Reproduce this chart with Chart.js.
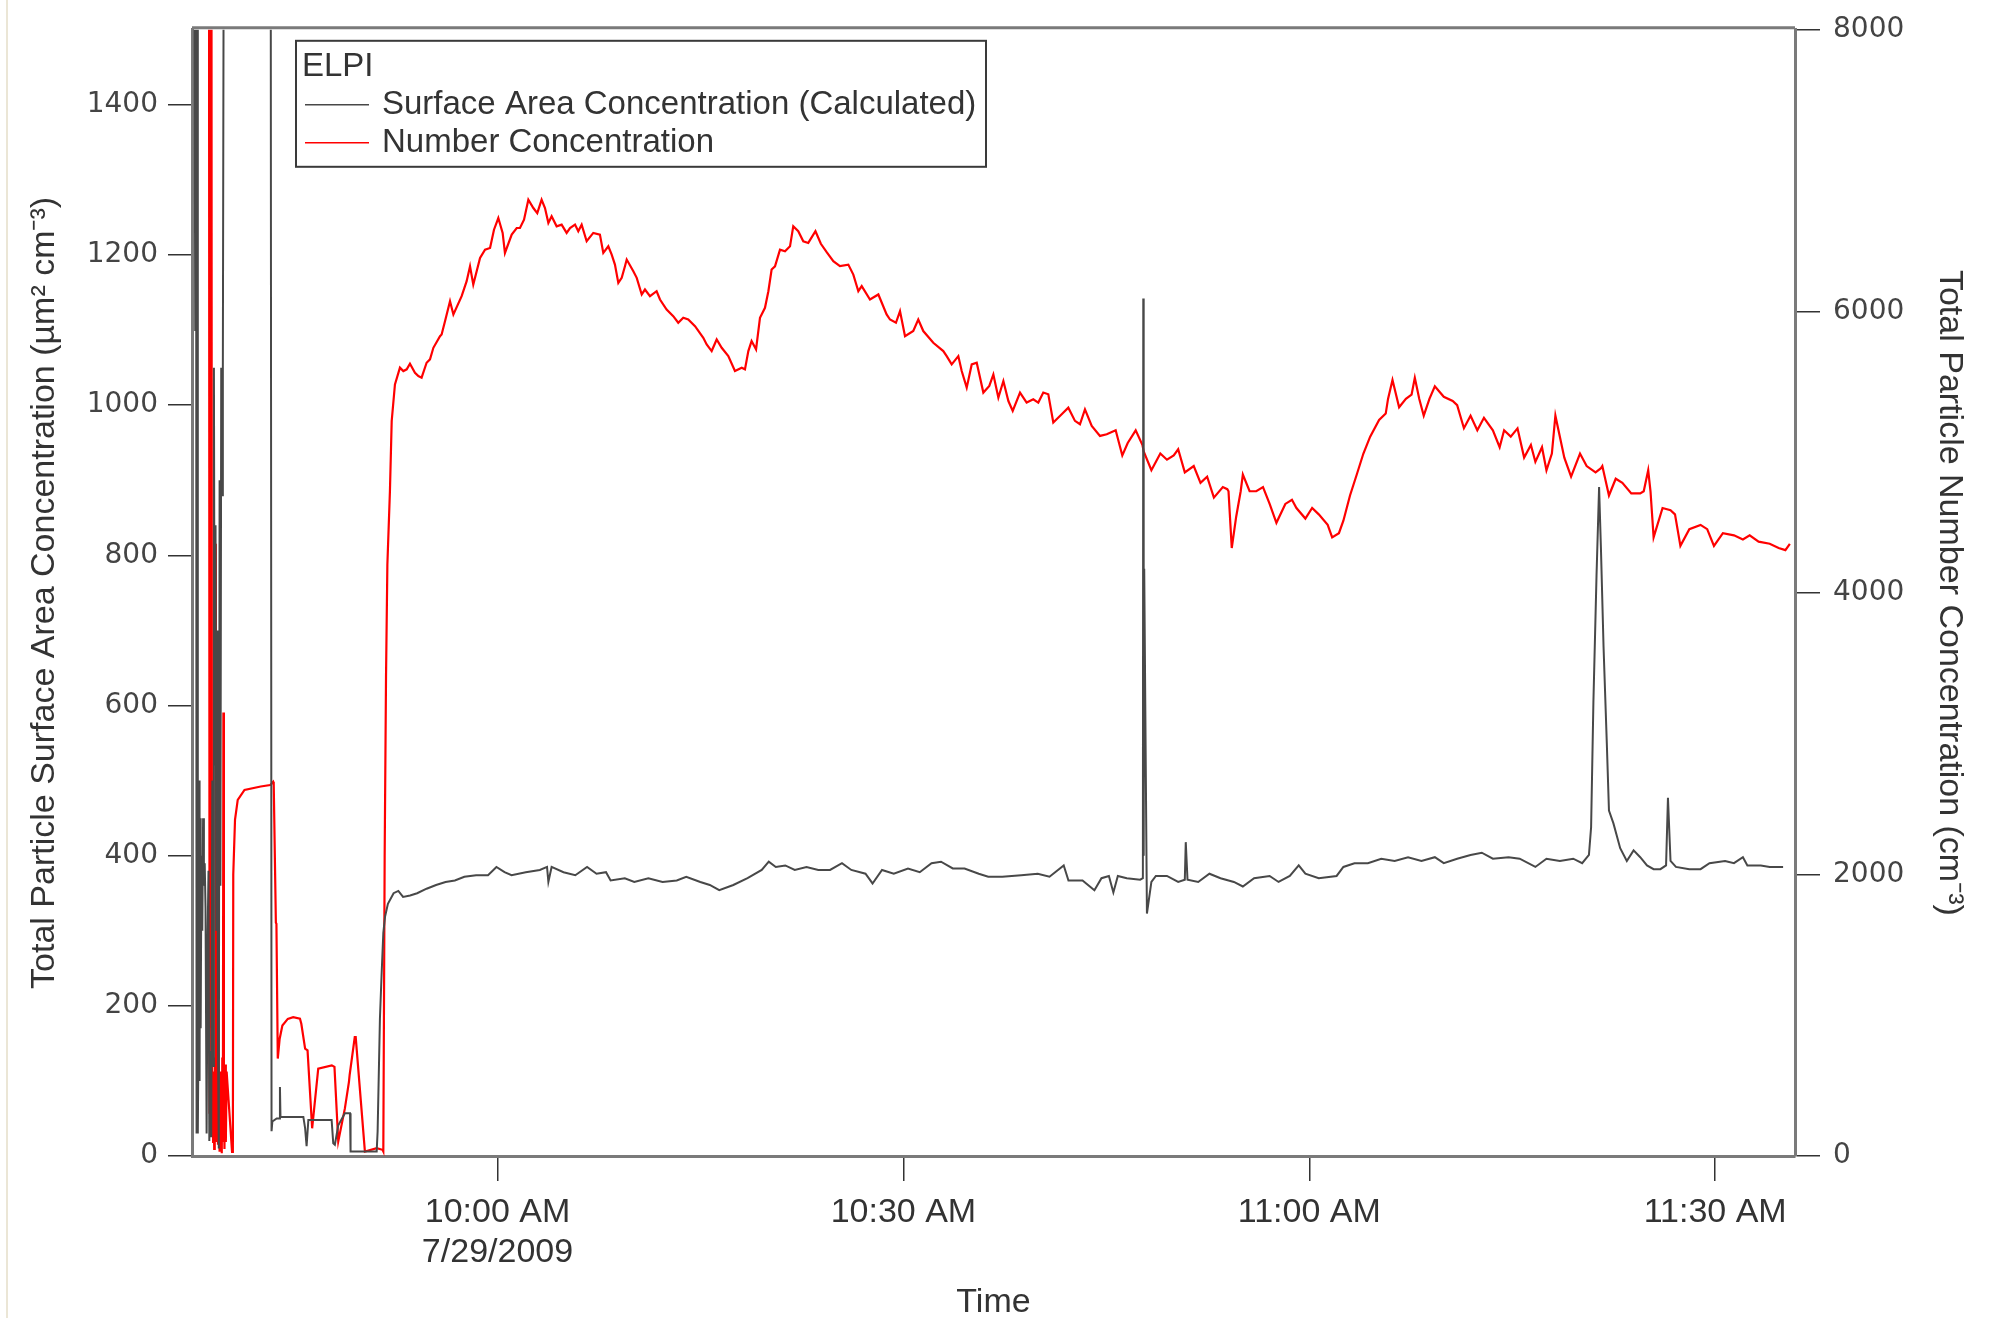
<!DOCTYPE html>
<html>
<head>
<meta charset="utf-8">
<title>ELPI - 7/29/2009</title>
<script src="https://cdn.jsdelivr.net/npm/chart.js@4.4.1/dist/chart.umd.min.js"></script>
<style>
    html, body { margin: 0; padding: 0; background: #fff; }
    #chart { display: block; }
</style>
</head>
<body>
<canvas id="chart" width="1995" height="1318"></canvas>
<script>
// Times are minutes after 9:00 AM on 7/29/2009
const xMin = 37.42;
const xMax = 155.9;
const xTickMinutes = [60, 90, 120, 150];
const xTickLabels = [['10:00 AM', '7/29/2009'], '10:30 AM', '11:00 AM', '11:30 AM'];
const surfaceTicks = [0, 200, 400, 600, 800, 1000, 1200, 1400];
const numberTicks = [0, 2000, 4000, 6000, 8000];

const legendTitle = 'ELPI';

// Surface area concentration (um2 cm-3), left axis
const surfaceMinutes = [
    37.60, 37.66, 37.68, 37.72, 37.74, 37.78, 37.80, 37.84, 37.86, 37.90, 37.94, 37.98,
    38.02, 38.06, 38.12, 38.18, 38.24, 38.30, 38.36, 38.42, 38.50, 38.58, 38.64, 38.70,
    38.78, 38.84, 38.92, 38.98, 39.04, 39.10, 39.16, 39.22, 39.28, 39.34, 39.40, 39.46,
    39.52, 39.58, 39.64, 39.70, 39.76, 40.50, 42.00, 43.24, 43.30, 43.36, 43.68, 43.90,
    43.92, 43.96, 45.65, 45.78, 45.89, 46.02, 47.74, 47.86, 47.98, 48.23, 48.72, 49.10,
    49.14, 51.07, 51.14, 51.31, 51.43, 51.56, 51.69, 51.90, 52.32, 52.67, 53.02, 53.54,
    54.06, 54.76, 55.46, 56.16, 56.85, 57.55, 58.42, 59.30, 59.92, 60.52, 61.04, 62.09,
    63.13, 63.66, 63.76, 64.00, 64.88, 65.75, 66.62, 67.32, 68.02, 68.36, 69.41, 70.11,
    71.15, 72.20, 73.25, 73.95, 74.99, 75.69, 76.39, 77.43, 78.48, 79.53, 80.05, 80.57,
    81.27, 81.97, 82.84, 83.71, 84.58, 85.46, 86.15, 87.20, 87.72, 88.42, 89.29, 90.34,
    91.21, 92.08, 92.78, 93.65, 94.52, 95.57, 96.27, 97.31, 98.71, 99.93, 100.80, 101.85,
    102.20, 103.24, 104.12, 104.64, 105.19, 105.52, 105.85, 106.51, 107.50, 107.70, 107.73, 107.76,
    107.80, 108.00, 108.33, 108.66, 109.48, 110.31, 110.80, 110.87, 111.00, 111.79, 112.62, 113.44,
    114.43, 115.09, 115.92, 117.07, 117.73, 118.56, 119.22, 119.71, 120.70, 122.02, 122.52, 123.34,
    124.33, 125.32, 126.31, 127.30, 128.29, 129.28, 129.94, 130.93, 131.92, 132.75, 133.57, 134.73,
    135.55, 136.71, 137.53, 138.52, 139.51, 140.17, 140.67, 140.83, 141.00, 141.23, 141.42, 141.56,
    141.75, 141.99, 142.15, 142.48, 142.98, 143.47, 143.97, 144.46, 144.96, 145.45, 145.95, 146.37,
    146.51, 146.70, 147.10, 148.09, 148.92, 149.58, 150.73, 151.39, 152.05, 152.38, 153.37, 154.03,
    155.02
];
const surfaceArea = [
    1600, 1100, 1600, 1600, 30, 1100, 1600, 1450, 30, 160, 500, 100,
    450, 170, 400, 300, 450, 360, 390, 330, 30, 300, 380, 20,
    140, 25, 500, 120, 1050, 520, 840, 300, 700, 150, 10, 900,
    360, 1050, 880, 1050, 1600, 1650, 1650, 1600, 33, 46, 50, 50,
    92, 52, 52, 37, 13, 48, 48, 17, 15, 41, 57, 57,
    6, 6, 33, 183, 240, 297, 319, 336, 350, 353, 345, 347,
    350, 356, 361, 365, 367, 372, 374, 374, 385, 378, 374, 378,
    381, 385, 365, 385, 378, 374, 385, 376, 378, 367, 370, 365,
    370, 365, 367, 372, 365, 361, 354, 361, 370, 381, 392, 385,
    387, 381, 385, 381, 381, 390, 381, 376, 363, 381, 376, 383,
    378, 390, 392, 383, 383, 376, 372, 372, 374, 376, 372, 387,
    367, 367, 354, 370, 373, 351, 373, 370, 368, 370, 1142, 400,
    782, 323, 365, 373, 373, 365, 368, 418, 368, 365, 376, 370,
    365, 359, 370, 373, 365, 373, 387, 376, 370, 373, 385, 390,
    390, 396, 393, 398, 393, 398, 390, 396, 401, 404, 396, 398,
    396, 385, 396, 393, 396, 390, 401, 438, 605, 773, 891, 807,
    678, 550, 460, 443, 410, 393, 407, 398, 387, 382, 382, 387,
    477, 393, 385, 382, 382, 390, 393, 390, 398, 387, 387, 385,
    385
];

// Number concentration (cm-3), right axis
const numberMinutes = [
    38.68, 38.72, 38.86, 38.90, 38.94, 38.98, 39.02, 39.06, 39.10, 39.14, 39.18, 39.22,
    39.26, 39.30, 39.34, 39.38, 39.42, 39.46, 39.50, 39.54, 39.58, 39.62, 39.66, 39.70,
    39.74, 39.78, 39.82, 39.86, 39.92, 39.98, 40.38, 40.44, 40.47, 40.60, 40.80, 41.30,
    42.50, 43.20, 43.35, 43.42, 43.46, 43.62, 43.66, 43.76, 43.90, 44.10, 44.50, 44.90,
    45.40, 45.50, 45.78, 45.96, 46.30, 46.75, 47.75, 47.95, 48.23, 48.72, 49.02, 49.07,
    49.45, 49.52, 50.20, 51.07, 51.50, 51.56, 51.66, 51.76, 51.86, 52.05, 52.18, 52.42,
    52.79, 53.04, 53.29, 53.53, 53.90, 54.15, 54.39, 54.76, 55.01, 55.26, 55.75, 55.87,
    56.12, 56.49, 56.74, 57.35, 57.72, 57.97, 58.21, 58.71, 59.08, 59.45, 59.74, 60.06,
    60.38, 60.55, 61.05, 61.42, 61.66, 61.96, 62.28, 62.65, 62.94, 63.26, 63.51, 63.76,
    64.00, 64.37, 64.74, 65.11, 65.36, 65.73, 65.97, 66.22, 66.59, 67.08, 67.57, 67.82,
    68.19, 68.44, 68.68, 68.93, 69.18, 69.42, 69.55, 70.04, 70.29, 70.66, 70.90, 71.27,
    71.76, 72.01, 72.50, 72.99, 73.36, 73.73, 74.10, 74.60, 75.21, 75.46, 75.83, 76.20,
    76.57, 77.06, 77.55, 78.05, 78.29, 78.54, 78.78, 79.11, 79.40, 79.77, 80.02, 80.26,
    80.51, 80.88, 81.25, 81.62, 81.86, 82.23, 82.60, 82.97, 83.50, 83.90, 84.33, 84.82,
    85.31, 85.93, 86.30, 86.67, 86.92, 87.53, 88.15, 88.76, 89.01, 89.45, 89.75, 90.12,
    90.73, 91.10, 91.47, 92.21, 92.95, 93.20, 93.57, 94.06, 94.31, 94.68, 95.05, 95.42,
    95.91, 96.35, 96.65, 97.02, 97.39, 97.76, 98.08, 98.62, 99.11, 99.60, 99.97, 100.34,
    100.71, 101.08, 101.70, 102.19, 102.68, 103.05, 103.42, 103.92, 104.53, 105.03, 105.69, 106.18,
    106.58, 107.17, 107.67, 107.76, 108.33, 108.99, 109.48, 109.98, 110.31, 110.80, 111.46, 111.96,
    112.45, 112.95, 113.61, 113.94, 114.03, 114.27, 114.60, 114.93, 115.09, 115.59, 116.08, 116.58,
    117.07, 117.57, 118.23, 118.72, 119.05, 119.71, 120.21, 120.70, 121.36, 121.69, 122.19, 122.52,
    123.01, 123.51, 124.00, 124.50, 125.16, 125.65, 125.82, 126.15, 126.64, 127.14, 127.56, 127.80,
    128.13, 128.46, 128.88, 129.28, 129.94, 130.60, 130.93, 131.43, 131.92, 132.42, 132.91, 133.57,
    134.07, 134.40, 134.89, 135.39, 135.88, 136.38, 136.71, 137.20, 137.53, 137.93, 138.19, 138.85,
    139.35, 140.01, 140.50, 141.16, 141.56, 141.66, 142.15, 142.65, 143.14, 143.80, 144.46, 144.72,
    145.05, 145.22, 145.45, 146.11, 146.70, 147.03, 147.43, 148.09, 148.92, 149.41, 149.91, 150.57,
    151.39, 152.05, 152.55, 153.21, 154.03, 154.69, 155.19, 155.52
];
const numberConc = [
    8500, 300, 8500, 200, 600, 100, 500, 50, 700, 150, 4350, 300,
    100, 650, 80, 1040, 200, 30, 600, 150, 500, 20, 700, 100,
    3150, 400, 50, 650, 100, 600, 30, 40, 2000, 2390, 2530, 2600,
    2625, 2635, 2650, 2658, 2646, 1657, 1650, 692, 833, 927, 974, 986,
    975, 939, 762, 750, 197, 621, 644, 633, 103, 338, 527, 574,
    845, 845, 32, 56, 44, 32, 2128, 3400, 4200, 4725, 5221, 5481,
    5600, 5576, 5588, 5628, 5564, 5540, 5529, 5635, 5659, 5741, 5824, 5836,
    5930, 6072, 5978, 6108, 6214, 6320, 6190, 6379, 6438, 6450, 6580, 6663,
    6557, 6415, 6545, 6592, 6592, 6651, 6793, 6734, 6698, 6793, 6734, 6628,
    6675, 6604, 6616, 6557, 6592, 6616, 6569, 6616, 6498, 6557, 6545, 6415,
    6462, 6403, 6332, 6202, 6238, 6320, 6368, 6285, 6238, 6120, 6155, 6108,
    6143, 6084, 6013, 5966, 5919, 5954, 5942, 5895, 5812, 5765, 5718, 5800,
    5741, 5682, 5576, 5600, 5588, 5718, 5789, 5730, 5954, 6025, 6143, 6297,
    6320, 6438, 6427, 6462, 6604, 6569, 6498, 6486, 6569, 6480, 6420, 6356,
    6321, 6332, 6261, 6143, 6179, 6084, 6120, 5978, 5942, 5919, 6001, 5824,
    5860, 5942, 5860, 5777, 5718, 5682, 5623, 5682, 5576, 5458, 5623, 5635,
    5423, 5470, 5552, 5387, 5505, 5363, 5293, 5423, 5352, 5375, 5352, 5423,
    5411, 5210, 5269, 5316, 5222, 5198, 5304, 5186, 5115, 5127, 5155, 4976,
    5065, 5155, 5050, 5005, 4871, 4990, 4946, 4976, 5020, 4856, 4901, 4782,
    4826, 4677, 4752, 4737, 4722, 4319, 4543, 4722, 4841, 4722, 4722, 4752,
    4632, 4498, 4632, 4662, 4603, 4528, 4603, 4558, 4483, 4394, 4424, 4513,
    4692, 4841, 4990, 5110, 5229, 5274, 5378, 5513, 5319, 5378, 5408, 5528,
    5378, 5259, 5378, 5468, 5393, 5363, 5334, 5170, 5259, 5155, 5244, 5155,
    5035, 5155, 5110, 5169, 4961, 5050, 4931, 5035, 4871, 4990, 5259, 4961,
    4826, 4990, 4901, 4856, 4886, 4901, 4692, 4811, 4782, 4707, 4707, 4722,
    4871, 4722, 4394, 4603, 4588, 4558, 4334, 4453, 4483, 4453, 4334, 4424,
    4409, 4379, 4409, 4364, 4349, 4319, 4304, 4349, 4334
];

// Find a narrow sans for the axis titles and time labels
function pickFont(candidates, fallback) {
    const ctx = document.createElement('canvas').getContext('2d');
    const probe = 'Total Particle 10:00 AM';
    ctx.font = '40px monospace';
    const base = ctx.measureText(probe).width;
    for (const name of candidates) {
        ctx.font = `40px "${name}", monospace`;
        if (Math.abs(ctx.measureText(probe).width - base) > 0.5) return name;
    }
    return fallback;
}

const narrowFamily = pickFont(['Liberation Sans Narrow', 'Arial Narrow'], 'Liberation Sans');
const hasNarrow = narrowFamily !== 'Liberation Sans';
// sizes for a real narrow face, or for the regular face standing in for it
const narrowSize = (px, regularPx) => hasNarrow ? px : regularPx;
const numberFamily = 'DejaVu Sans';

function toPoints(xs, ys) {
    return xs.map((x, i) => ({ x: x, y: ys[i] }));
}

// Box round the plot, faint page edge and the ELPI legend
const framePlugin = {
    id: 'frame',
    beforeDraw(chart) {
        const ctx = chart.ctx;
        ctx.save();
        ctx.fillStyle = '#ffffff';
        ctx.fillRect(0, 0, chart.width, chart.height);
        ctx.strokeStyle = '#ebe6d6';
        ctx.lineWidth = 2;
        ctx.beginPath();
        ctx.moveTo(7, 0);
        ctx.lineTo(7, chart.height);
        ctx.stroke();
        ctx.restore();
    },
    afterDraw(chart) {
        const ctx = chart.ctx;
        const area = chart.chartArea;
        ctx.save();
        ctx.strokeStyle = '#7a7a7a';
        ctx.lineWidth = 3;
        ctx.beginPath();
        ctx.moveTo(area.left, area.top - 2);
        ctx.lineTo(area.right, area.top - 2);
        ctx.stroke();

        // legend
        const boxX = area.left + 104;
        const boxY = area.top + 11;
        const boxW = 690;
        const boxH = 126;
        ctx.fillStyle = '#ffffff';
        ctx.fillRect(boxX, boxY, boxW, boxH);
        ctx.strokeStyle = '#3a3a3a';
        ctx.lineWidth = 2;
        ctx.strokeRect(boxX, boxY, boxW, boxH);

        ctx.fillStyle = '#333';
        ctx.textBaseline = 'middle';
        ctx.textAlign = 'left';
        ctx.font = `${narrowSize(37, 33)}px "${narrowFamily}"`;
        ctx.fillText(legendTitle, boxX + 6, boxY + 26);

        chart.data.datasets.forEach((ds, i) => {
            const y = boxY + 64 + i * 38;
            ctx.strokeStyle = ds.borderColor;
            ctx.lineWidth = 1.5;
            ctx.beginPath();
            ctx.moveTo(boxX + 9, y);
            ctx.lineTo(boxX + 73, y);
            ctx.stroke();
            ctx.fillStyle = '#333';
            ctx.fillText(ds.label, boxX + 86, y);
        });
        ctx.restore();
    }
};

const tickColor = '#333';
const axisColor = '#7a7a7a';

new Chart(document.getElementById('chart'), {
    type: 'line',
    data: {
        datasets: [
            {
                label: 'Surface Area Concentration (Calculated)',
                data: toPoints(surfaceMinutes, surfaceArea),
                yAxisID: 'ySurface',
                borderColor: '#484848',
                borderWidth: 2,
                pointRadius: 0,
                tension: 0
            },
            {
                label: 'Number Concentration',
                data: toPoints(numberMinutes, numberConc),
                yAxisID: 'yNumber',
                borderColor: '#ff0000',
                borderWidth: 2.2,
                pointRadius: 0,
                tension: 0
            }
        ]
    },
    options: {
        responsive: false,
        devicePixelRatio: 1,
        animation: false,
        layout: { padding: { top: 28, left: 0, right: 0, bottom: 0 } },
        plugins: {
            legend: { display: false },
            tooltip: { enabled: false }
        },
        scales: {
            x: {
                type: 'linear',
                position: 'bottom',
                min: xMin,
                max: xMax,
                afterFit: scale => { scale.height = 162; },
                afterBuildTicks: scale => {
                    scale.ticks = xTickMinutes.map(v => ({ value: v }));
                },
                ticks: {
                    autoSkip: false,
                    maxRotation: 0,
                    padding: 12,
                    color: tickColor,
                    font: { family: narrowFamily, size: narrowSize(40, 34), lineHeight: 1.17 },
                    callback: value => xTickLabels[xTickMinutes.indexOf(value)]
                },
                grid: { drawOnChartArea: false, tickLength: 25, color: tickColor, lineWidth: 1.5 },
                border: { color: axisColor, width: 3 },
                title: {
                    display: true,
                    text: 'Time',
                    color: tickColor,
                    font: { family: narrowFamily, size: narrowSize(40, 34), lineHeight: 0.9 },
                    padding: { top: 0, bottom: 0 }
                }
            },
            ySurface: {
                type: 'linear',
                position: 'left',
                min: 0,
                max: 1500,
                afterFit: scale => { scale.width = 192; },
                afterBuildTicks: scale => {
                    scale.ticks = surfaceTicks.map(v => ({ value: v }));
                },
                ticks: {
                    padding: 10,
                    color: '#444',
                    font: { family: numberFamily, size: 28 },
                    callback: value => String(value)
                },
                grid: { drawOnChartArea: false, tickLength: 24, color: tickColor, lineWidth: 1.5 },
                border: { color: axisColor, width: 3 },
                title: {
                    display: true,
                    text: 'Total Particle Surface Area Concentration (µm² cm⁻³)',
                    color: tickColor,
                    font: { family: narrowFamily, size: narrowSize(38, 34), lineHeight: 1.2 },
                    padding: { top: 24, bottom: 0 }
                }
            },
            yNumber: {
                type: 'linear',
                position: 'right',
                min: 0,
                max: 8000,
                afterFit: scale => { scale.width = 200; },
                afterBuildTicks: scale => {
                    scale.ticks = numberTicks.map(v => ({ value: v }));
                },
                ticks: {
                    padding: 13,
                    color: '#444',
                    font: { family: numberFamily, size: 28 },
                    callback: value => String(value)
                },
                grid: { drawOnChartArea: false, tickLength: 25, color: tickColor, lineWidth: 1.5 },
                border: { color: axisColor, width: 3 },
                title: {
                    display: true,
                    text: 'Total Particle Number Concentration (cm⁻³)',
                    color: tickColor,
                    font: { family: narrowFamily, size: narrowSize(38, 34), lineHeight: 1.2 },
                    padding: { top: 25, bottom: 0 }
                }
            }
        }
    },
    plugins: [framePlugin]
});
</script>
</body>
</html>
